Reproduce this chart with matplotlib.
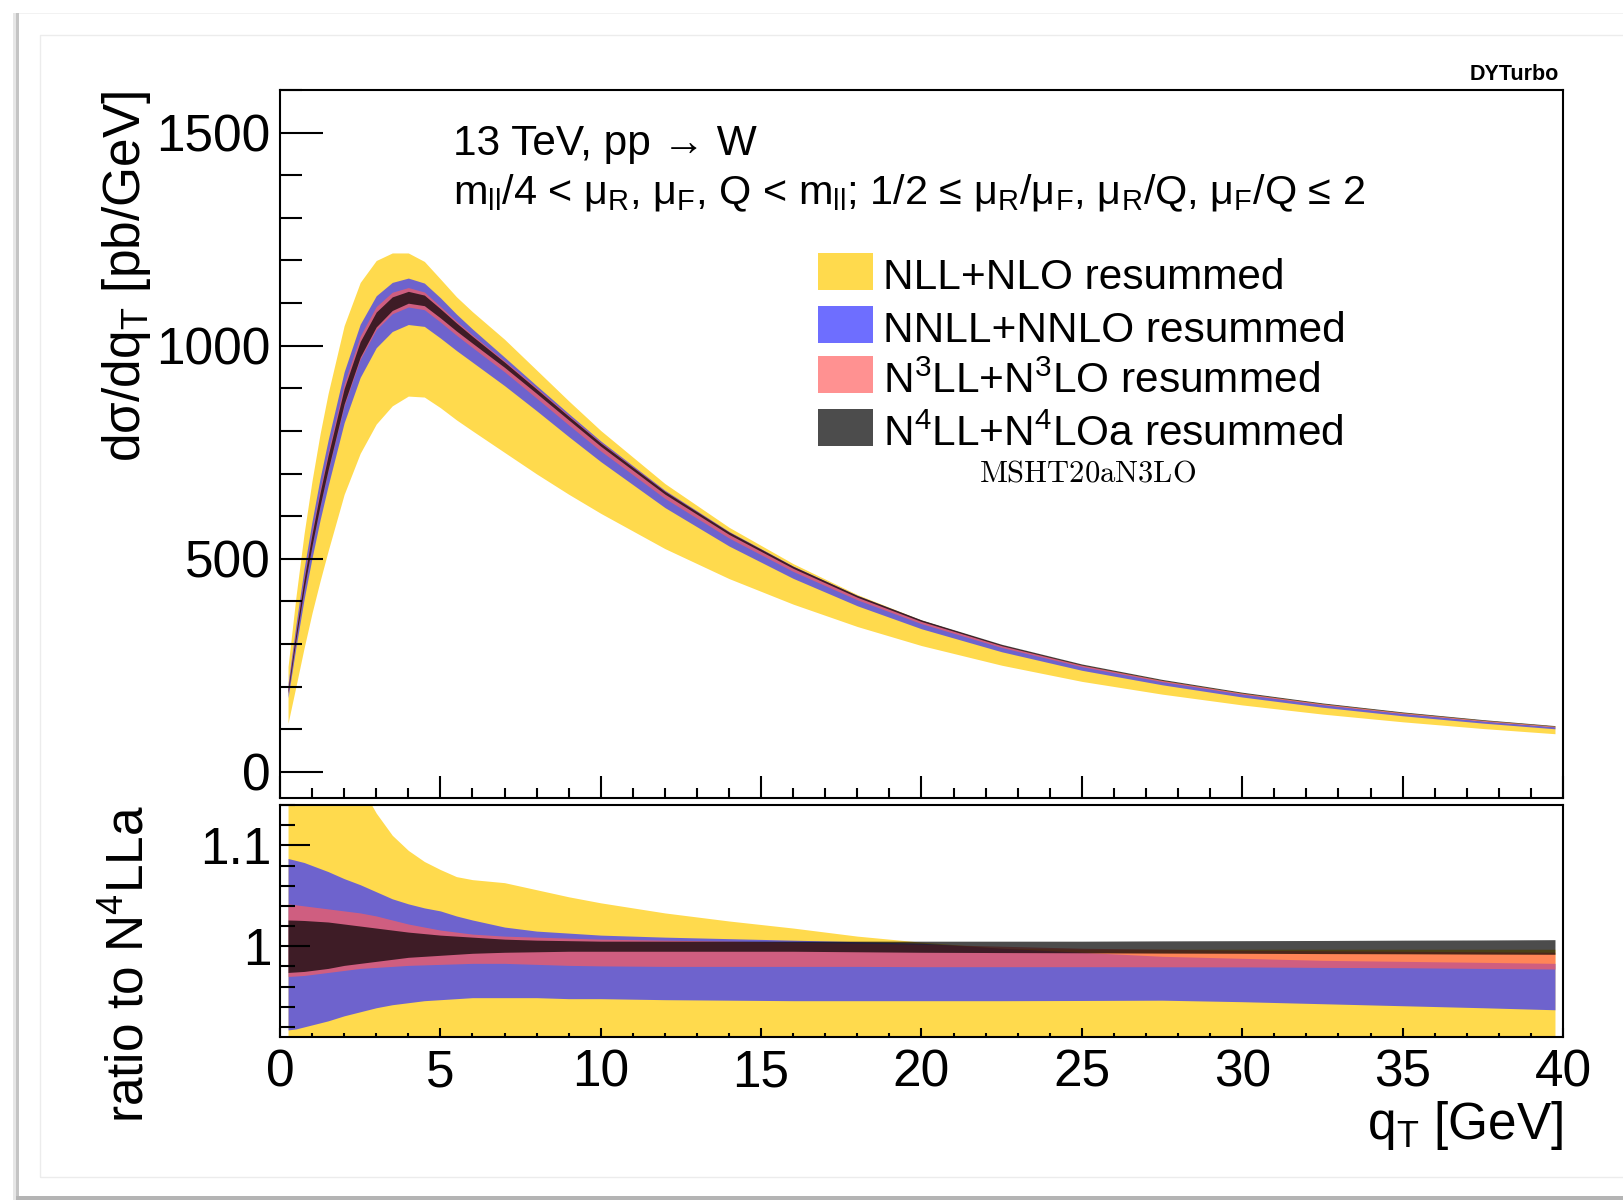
import numpy as np
import matplotlib
matplotlib.use('Agg')
import matplotlib.pyplot as plt
from matplotlib.patches import Rectangle
from matplotlib.ticker import MultipleLocator, FuncFormatter

plt.rcParams['font.family'] = ['Liberation Sans', 'DejaVu Sans']
plt.rcParams['mathtext.fontset'] = 'custom'
plt.rcParams['mathtext.rm'] = 'Liberation Sans'
plt.rcParams['mathtext.it'] = 'Liberation Sans:italic'
plt.rcParams['mathtext.bf'] = 'Liberation Sans:bold'

# qT bin centres [GeV]
qt = [0.25, 0.5, 0.75, 1.0, 1.25, 1.5, 2.0, 2.5, 3.0, 3.5, 4.0, 4.5, 5.0, 5.5,
      6.0, 7.0, 8.0, 9.0, 10.0, 12.0, 14.0, 16.0, 18.0, 20.0, 22.5, 25.0,
      27.5, 30.0, 32.5, 35.0, 37.5, 39.75]

# N4LL+N4LOa central prediction, dsigma/dqT [pb/GeV]
central = [190, 320, 440, 545, 640, 725, 880, 990, 1060, 1097, 1112, 1105,
           1075, 1043, 1013, 955, 893, 830, 768, 655, 560, 480, 412, 355,
           298, 252, 216, 186, 161, 140, 122, 108]

# scale-variation bands as ratio to the N4LL central value
nll_up = [1.30, 1.29, 1.27, 1.255, 1.24, 1.225, 1.19, 1.16, 1.132, 1.11, 1.095,
          1.084, 1.076, 1.069, 1.066, 1.063, 1.056, 1.049, 1.043, 1.033, 1.025,
          1.018, 1.010, 1.004, 0.998, 0.997, 0.997, 0.997, 0.997, 0.997, 0.997,
          0.997]
nll_dn = [0.60, 0.63, 0.66, 0.685, 0.70, 0.715, 0.74, 0.755, 0.77, 0.783,
          0.793, 0.796, 0.795, 0.792, 0.79, 0.785, 0.783, 0.785, 0.79, 0.80,
          0.81, 0.82, 0.828, 0.835, 0.84, 0.843, 0.845, 0.845, 0.843, 0.84,
          0.835, 0.83]

nnll_up = [1.087, 1.085, 1.083, 1.08, 1.077, 1.074, 1.067, 1.061, 1.054, 1.047,
           1.042, 1.038, 1.035, 1.030, 1.026, 1.019, 1.015, 1.013, 1.011, 1.009,
           1.0075, 1.006, 1.0045, 1.003, 0.998, 0.994, 0.99, 0.988, 0.986,
           0.985, 0.984, 0.983]
nnll_dn = [0.917, 0.918, 0.92, 0.922, 0.924, 0.926, 0.931, 0.935, 0.939, 0.942,
           0.944, 0.946, 0.947, 0.948, 0.949, 0.949, 0.949, 0.948, 0.948, 0.947,
           0.9465, 0.946, 0.946, 0.946, 0.946, 0.9462, 0.9465, 0.945, 0.943,
           0.941, 0.939, 0.937]

n3ll_up = [1.042, 1.041, 1.04, 1.039, 1.038, 1.037, 1.035, 1.033, 1.030, 1.026,
           1.022, 1.019, 1.016, 1.014, 1.012, 1.010, 1.009, 1.008, 1.007, 1.006,
           1.005, 1.004, 1.003, 1.002, 1.0, 0.998, 0.997, 0.996, 0.9955, 0.995,
           0.9945, 0.994]
n3ll_dn = [0.970, 0.9705, 0.971, 0.972, 0.973, 0.974, 0.976, 0.978, 0.979,
           0.980, 0.981, 0.9815, 0.982, 0.9825, 0.983, 0.983, 0.982, 0.981,
           0.9805, 0.980, 0.980, 0.980, 0.980, 0.9797, 0.9797, 0.9797, 0.9796,
           0.9795, 0.979, 0.9787, 0.978, 0.9774]

n4ll_up = [1.026, 1.0258, 1.0255, 1.025, 1.0245, 1.024, 1.022, 1.020, 1.018,
           1.016, 1.014, 1.0125, 1.011, 1.010, 1.009, 1.007, 1.006, 1.0055,
           1.005, 1.005, 1.005, 1.005, 1.005, 1.005, 1.005, 1.005, 1.0053,
           1.0055, 1.0057, 1.006, 1.0062, 1.0065]
n4ll_dn = [0.974, 0.9745, 0.975, 0.976, 0.977, 0.978, 0.981, 0.983, 0.985,
           0.987, 0.989, 0.990, 0.991, 0.992, 0.993, 0.994, 0.9945, 0.995,
           0.995, 0.995, 0.995, 0.995, 0.9945, 0.994, 0.9937, 0.9935, 0.9932,
           0.993, 0.9927, 0.9925, 0.9922, 0.992]

labels = ['NLL+NLO resummed', 'NNLL+NNLO resummed',
          'N$^{3}$LL+N$^{3}$LO resummed', 'N$^{4}$LL+N$^{4}$LOa resummed']

# transparent fills, like the ROOT original
colors = [(1.0, 218/255, 77/255, 1.0),
          (54/255, 54/255, 1.0, 0.72),
          (1.0, 92/255, 92/255, 0.676),
          (0.0, 0.0, 0.0, 0.70)]

bands = [(nll_dn, nll_up), (nnll_dn, nnll_up), (n3ll_dn, n3ll_up), (n4ll_dn, n4ll_up)]

W, H = 1624, 1200
fig = plt.figure(figsize=(W / 100, H / 100), dpi=100)
fig.patch.set_facecolor('white')


def px_rect(x0, y0, x1, y1, **kw):
    # rectangle given in pixel coords, origin top-left
    r = Rectangle((x0 / W, 1 - y1 / H), (x1 - x0) / W, (y1 - y0) / H,
                  transform=fig.transFigure, **kw)
    fig.add_artist(r)
    return r


# screenshot card + shadow
px_rect(13, 13, 16, H, color='#e6e6e6', lw=0)
px_rect(16, 13, 19, H, color='#c4c4c4', lw=0)
px_rect(16, H - 4, W, H, color='#b4b4b4', lw=0)
px_rect(19, 13, W, 14, color='#f2f2f2', lw=0)
px_rect(40, 35, W + 5, 1177, fill=False, edgecolor='#ececec', lw=1)

ax1 = fig.add_axes([280 / W, 1 - 797.5 / H, 1283 / W, 707.5 / H])
ax2 = fig.add_axes([280 / W, 1 - 1037 / H, 1283 / W, 232 / H])

x = np.array(qt)
c = np.array(central)
for (lo, hi), col in zip(bands, colors):
    ax1.fill_between(x, c * np.array(lo), c * np.array(hi), color=col, lw=0)
    ax2.fill_between(x, lo, hi, color=col, lw=0)

ax1.set_xlim(0, 40)
ax1.set_ylim(-60, 1600)
ax2.set_xlim(0, 40)
ax2.set_ylim(0.91, 1.14)

for ax in (ax1, ax2):
    for s in ax.spines.values():
        s.set_linewidth(1.5)
    ax.xaxis.set_major_locator(MultipleLocator(5))
    ax.xaxis.set_minor_locator(MultipleLocator(1))
    ax.tick_params(which='both', direction='in', width=1.5, top=False, right=False,
                   labelsize=37)

ax1.yaxis.set_major_locator(MultipleLocator(500))
ax1.yaxis.set_minor_locator(MultipleLocator(100))
ax1.tick_params(axis='y', which='major', length=31, pad=7)
ax1.tick_params(axis='y', which='minor', length=16)
ax1.tick_params(axis='x', which='major', length=16)
ax1.tick_params(axis='x', which='minor', length=7)
ax1.tick_params(axis='x', labelbottom=False)

ax2.yaxis.set_major_locator(MultipleLocator(0.1))
ax2.yaxis.set_minor_locator(MultipleLocator(0.02))
ax2.yaxis.set_major_formatter(FuncFormatter(lambda v, p: '%g' % round(v, 3)))
ax2.xaxis.set_major_formatter(FuncFormatter(lambda v, p: '%g' % v))
ax2.tick_params(axis='y', which='major', length=21.6, pad=6)
ax2.tick_params(axis='y', which='minor', length=10.8)
ax2.tick_params(axis='x', which='major', length=6.5, pad=8)
ax2.tick_params(axis='x', which='minor', length=3)

# axis titles (ROOT style, right aligned)
fig.text(127 / W, 1 - 91 / H, 'dσ/dq$_\\mathrm{T}$ [pb/GeV]', rotation=90,
         ha='center', va='top', fontsize=37)
fig.text(130 / W, 1 - 805 / H, 'ratio to N$^\\mathrm{4}$LLa', rotation=90,
         ha='center', va='top', fontsize=37)
fig.text(1563 / W, 1 - 1139 / H, 'q$_\\mathrm{T}$ [GeV]', ha='right',
         va='baseline', fontsize=37)

fig.text(1559 / W, 1 - 80 / H, 'DYTurbo', ha='right', va='baseline',
         fontsize=15.5, fontweight='bold')

fig.text(453 / W, 1 - 155 / H, '13 TeV, pp → W', va='baseline', fontsize=30.5)
fig.text(453 / W, 1 - 204 / H,
         'm$_\\mathrm{ll}$/4 < μ$_\\mathrm{R}$, μ$_\\mathrm{F}$, Q < m$_\\mathrm{ll}$; '
         '1/2 ≤ μ$_\\mathrm{R}$/μ$_\\mathrm{F}$, μ$_\\mathrm{R}$/Q, μ$_\\mathrm{F}$/Q ≤ 2',
         va='baseline', fontsize=29.8)

# legend drawn by hand
row_y = [271.3, 324.2, 374.9, 427.7]
for yc, lab, col in zip(row_y, labels, colors):
    px_rect(818, yc - 18.5, 873, yc + 18.5, color=col, lw=0)
    fig.text(883 / W, 1 - (yc + 18) / H, lab, va='baseline', fontsize=30.5)

fig.text(1088 / W, 1 - 481 / H, r'$\mathrm{MSHT20aN3LO}$', math_fontfamily='cm',
         ha='center', va='baseline', fontsize=22)

plt.savefig('out.png', dpi=100)
